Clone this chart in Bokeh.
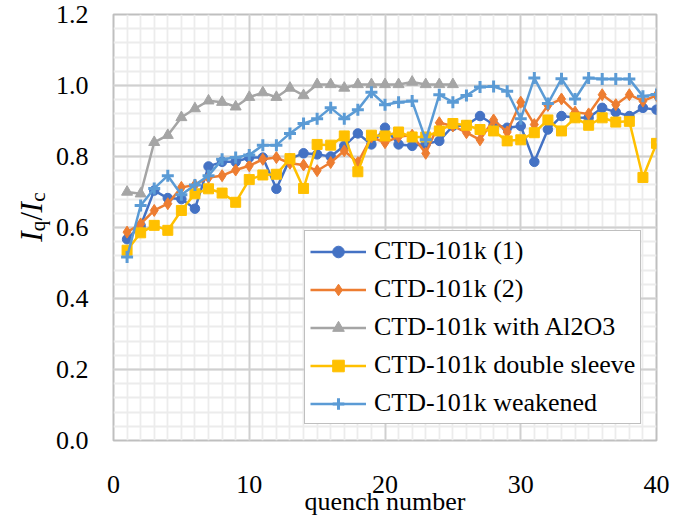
from bokeh.plotting import figure
from bokeh.models import (Range1d, FixedTicker, Legend, LegendItem,
                          ColumnDataSource, Grid)
from bokeh.layouts import row
from bokeh.core.properties import value
from bokeh.embed import file_html
from bokeh.resources import INLINE
import math

quench = list(range(1, 41))
quench_al = list(range(1, 26))

ctd_1 = [0.567, 0.605, 0.704, 0.683, 0.680, 0.653, 0.772, 0.785, 0.785, 0.797,
         0.797, 0.709, 0.794, 0.809, 0.806, 0.800, 0.830, 0.865, 0.834, 0.881,
         0.834, 0.830, 0.835, 0.844, 0.886, 0.888, 0.914, 0.890, 0.881, 0.886,
         0.785, 0.876, 0.914, 0.910, 0.909, 0.937, 0.925, 0.914, 0.937, 0.932]
ctd_2 = [0.587, 0.610, 0.648, 0.667, 0.713, 0.720, 0.741, 0.746, 0.762, 0.774,
         0.792, 0.797, 0.781, 0.776, 0.760, 0.783, 0.816, 0.783, 0.855, 0.839,
         0.856, 0.860, 0.809, 0.895, 0.886, 0.867, 0.847, 0.903, 0.869, 0.953,
         0.890, 0.944, 0.962, 0.925, 0.920, 0.974, 0.946, 0.974, 0.956, 0.972]
ctd_al = [0.700, 0.695, 0.840, 0.860, 0.910, 0.935, 0.957, 0.953, 0.940, 0.967,
          0.980, 0.967, 0.993, 0.972, 1.003, 1.003, 0.993, 1.003, 1.003, 1.003,
          1.003, 1.010, 1.003, 1.003, 1.003]
ctd_ds = [0.536, 0.585, 0.606, 0.592, 0.648, 0.695, 0.709, 0.697, 0.671, 0.735,
          0.748, 0.750, 0.794, 0.710, 0.834, 0.832, 0.858, 0.757, 0.860, 0.858,
          0.869, 0.855, 0.855, 0.872, 0.893, 0.888, 0.876, 0.872, 0.844, 0.847,
          0.867, 0.903, 0.872, 0.909, 0.888, 0.909, 0.897, 0.899, 0.741, 0.837]
ctd_wk = [0.517, 0.662, 0.710, 0.746, 0.692, 0.720, 0.746, 0.792, 0.797, 0.804,
          0.832, 0.832, 0.865, 0.893, 0.906, 0.937, 0.906, 0.932, 0.981, 0.946,
          0.953, 0.956, 0.847, 0.974, 0.953, 0.972, 0.996, 0.997, 0.984, 0.906,
          1.021, 0.949, 1.019, 0.962, 1.021, 1.018, 1.018, 1.018, 0.970, 0.975]

x_ticks = [0, 10, 20, 30, 40]
y_ticks = [0.0, 0.2, 0.4, 0.6, 0.8, 1.0, 1.2]
x_minor = list(range(0, 41))
y_minor = [round(i * 0.04, 2) for i in range(31)]

# y-axis title pieces: I_q / I_c
ylab_text = ["I", "q", "/", "I", "c"]

FONT = "Liberation Serif"

H = 523
STRIP_W = 52
MAIN_W = 640

p = figure(width=MAIN_W, height=H, output_backend="svg", toolbar_location=None,
           x_range=Range1d(0, 40), y_range=Range1d(0, 1.2),
           min_border_left=112 - STRIP_W, min_border_right=STRIP_W + MAIN_W - 656,
           min_border_top=14, min_border_bottom=H - 440)
p.background_fill_color = "white"
p.border_fill_color = "white"
p.outline_line_color = "#bfbfbf"
p.outline_line_width = 2

p.xaxis.ticker = FixedTicker(ticks=x_ticks, minor_ticks=x_minor)
p.yaxis.ticker = FixedTicker(ticks=y_ticks, minor_ticks=y_minor)
p.yaxis.major_label_overrides = {t: f"{t:.1f}" for t in y_ticks}

for ax in (p.xaxis, p.yaxis):
    ax.axis_line_color = None
    ax.major_tick_line_color = None
    ax.minor_tick_line_color = None
    ax.major_tick_in = 0
    ax.major_tick_out = 0
    ax.minor_tick_in = 0
    ax.minor_tick_out = 0
    ax.major_label_text_font = FONT
    ax.major_label_text_font_size = "26px"
    ax.major_label_text_color = "black"
p.xaxis.major_label_standoff = 35
p.yaxis.major_label_standoff = 25
p.xaxis.axis_label = "quench number"
p.xaxis.axis_label_text_font = FONT
p.xaxis.axis_label_text_font_style = "normal"
p.xaxis.axis_label_text_font_size = "26px"
p.xaxis.axis_label_text_color = "black"
p.xaxis.axis_label_standoff = -9

# minor grid from the default grids, major grid drawn on top of it
for g in (p.xgrid, p.ygrid):
    g.grid_line_color = None
    g.minor_grid_line_color = "#ececec"
    g.minor_grid_line_width = 1.8
p.add_layout(Grid(dimension=0, ticker=FixedTicker(ticks=x_ticks),
                  grid_line_color="#d0d0d0", grid_line_width=1.8))
p.add_layout(Grid(dimension=1, ticker=FixedTicker(ticks=y_ticks),
                  grid_line_color="#d0d0d0", grid_line_width=1.8))

series = [
    ("CTD-101k (1)", quench, ctd_1, "#4472C4", "circle", 9.5),
    ("CTD-101k (2)", quench, ctd_2, "#ED7D31", "diamond", 12),
    ("CTD-101k with Al2O3", quench_al, ctd_al, "#A5A5A5", "triangle", 11),
    ("CTD-101k double sleeve", quench, ctd_ds, "#FFC000", "square", 10),
    ("CTD-101k weakened", quench, ctd_wk, "#5B9BD5", "cross", 12),
]

items = []
for name, xs, ys, color, marker, size in series:
    ln = p.line(xs, ys, line_color=color, line_width=2.5)
    if marker == "cross":
        sc = p.scatter(xs, ys, marker=marker, size=size, line_color=color,
                       line_width=3)
    else:
        sc = p.scatter(xs, ys, marker=marker, size=size, fill_color=color,
                       line_color=color, line_width=1)
    items.append(LegendItem(label=name, renderers=[ln, sc]))

legend = Legend(items=items, location=(191, 16))
legend.label_text_font = FONT
legend.label_text_font_size = "26px"
legend.label_text_color = "black"
legend.glyph_width = 56
legend.glyph_height = 29
legend.label_height = 29
legend.spacing = 8
legend.padding = 5
legend.margin = 0
legend.label_standoff = 8
legend.border_line_color = "#7f7f7f"
legend.border_line_width = 1.5
legend.background_fill_color = "white"
legend.background_fill_alpha = 1.0
p.add_layout(legend, "center")

# strip figure holding the rotated y-axis title (pixel coordinates)
s = figure(width=STRIP_W, height=H, output_backend="svg", toolbar_location=None,
           x_range=Range1d(0, STRIP_W), y_range=Range1d(0, H),
           x_axis_type=None, y_axis_type=None,
           min_border=0, min_border_left=0, min_border_right=0,
           min_border_top=0, min_border_bottom=0)
s.outline_line_color = None
s.background_fill_color = "white"
s.border_fill_color = "white"
base_y = H - 279
src = ColumnDataSource(dict(
    x=[31, 37, 31, 31, 37],
    y=[base_y, base_y + 13, base_y + 26, base_y + 36, base_y + 49],
    t=ylab_text,
    fs=["31px", "21px", "31px", "31px", "21px"],
    st=["italic", "normal", "normal", "italic", "normal"],
))
s.text(x="x", y="y", text="t", source=src, angle=math.pi / 2,
       text_font=value(FONT), text_font_size="fs",
       text_font_style="st", text_align="left", text_baseline="alphabetic",
       text_color="black")

open("out.html", "w").write(file_html(row(s, p), INLINE))
